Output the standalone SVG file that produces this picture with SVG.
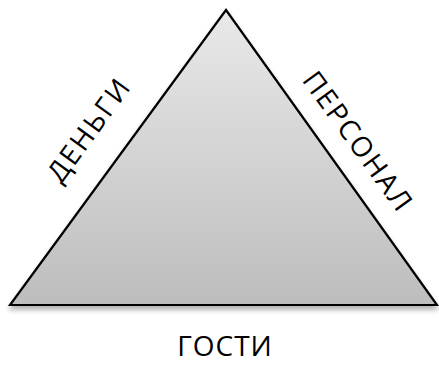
<svg xmlns="http://www.w3.org/2000/svg" width="439" height="365" viewBox="0 0 439 365">
<style>
.lbl{font-family:"Open Sans","Liberation Sans",sans-serif;font-size:28px;fill:#000;text-anchor:middle}
.rot{letter-spacing:2px;dominant-baseline:central}
</style>
<defs>
<linearGradient id="g" x1="0" y1="0" x2="0" y2="1">
<stop offset="0" stop-color="#e9e9e9"/>
<stop offset="1" stop-color="#bdbdbd"/>
</linearGradient>
<filter id="sh" x="-10%" y="-10%" width="120%" height="130%">
<feGaussianBlur in="SourceAlpha" stdDeviation="2.5"/>
<feOffset dy="4"/>
<feComponentTransfer><feFuncA type="linear" slope="0.3"/></feComponentTransfer>
<feMerge><feMergeNode/><feMergeNode in="SourceGraphic"/></feMerge>
</filter>
</defs>
<g id="triangle">
<polygon points="226,10 10,305 437,305" fill="url(#g)" stroke="#000" stroke-width="2.2" stroke-linejoin="miter" filter="url(#sh)"/>
</g>
<g id="label-money"><text class="lbl rot" transform="translate(88,129) rotate(-54)">ДЕНЬГИ</text></g>
<g id="label-staff"><text class="lbl rot" transform="translate(359,141) rotate(54)">ПЕРСОНАЛ</text></g>
<g id="label-guests"><text class="lbl" x="225" y="356" style="letter-spacing:1px">ГОСТИ</text></g>
</svg>
